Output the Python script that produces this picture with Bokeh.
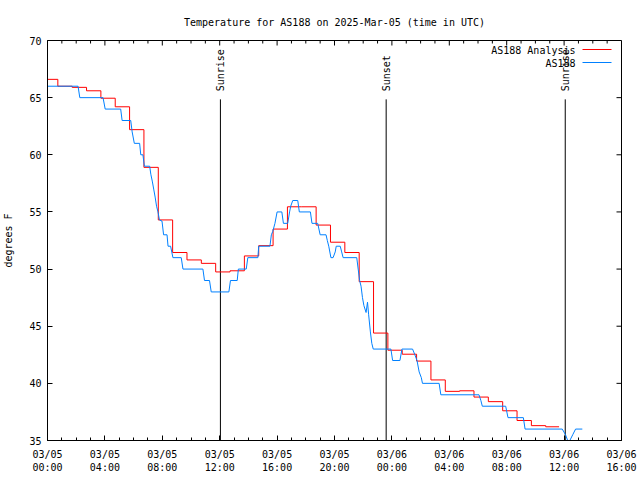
import math
from bokeh.plotting import figure
from bokeh.models import Range1d, FixedTicker, Label, Arrow
from bokeh.core.properties import value
from bokeh.embed import file_html
from bokeh.resources import INLINE

title_text = "Temperature for AS188 on 2025-Mar-05 (time in UTC)"
y_axis_title = "degrees F"

x_tick_hours = [0, 4, 8, 12, 16, 20, 24, 28, 32, 36, 40]
x_tick_labels = ["03/05\n00:00", "03/05\n04:00", "03/05\n08:00", "03/05\n12:00",
                 "03/05\n16:00", "03/05\n20:00", "03/06\n00:00", "03/06\n04:00",
                 "03/06\n08:00", "03/06\n12:00", "03/06\n16:00"]
x_minor_hours = list(range(0, 41))
y_ticks = [35, 40, 45, 50, 55, 60, 65, 70]

# AS188 Analysis (hourly values, stepped)
analysis_hours = [0, 0.72, 1.72, 2.72, 3.72, 4.72, 5.72, 6.72, 7.72, 8.72, 9.72,
                  10.72, 11.72, 12.72, 13.72, 14.72, 15.72, 16.72, 17.72, 18.72,
                  19.72, 20.72, 21.72, 22.72, 23.72, 24.72, 25.72, 26.72, 27.72,
                  28.72, 29.72, 30.72, 31.72, 32.72, 33.72, 34.72, 35.65]
analysis_temps = [66.6, 66.0, 65.9, 65.6, 64.95, 64.2, 62.2, 58.9, 54.3, 51.45, 50.8,
                  50.5, 49.75, 49.85, 51.15, 52.05, 53.5, 55.45, 55.45, 53.85,
                  52.35, 51.45, 48.9, 44.4, 42.9, 42.55, 41.95, 40.3, 39.3,
                  39.35, 38.8, 38.4, 37.6, 36.75, 36.3, 36.2, 36.2]

# AS188 observations
obs_hours = [0, 2.13, 2.25, 3.87, 4.02, 5.1, 5.2, 5.8, 5.9, 6.05, 6.42, 6.5, 6.65, 6.75,
             7.12, 7.2, 7.3, 7.4, 7.5, 7.6, 7.7, 7.8, 7.98, 8.09, 8.33, 8.4, 8.58,
             8.74, 9.32, 9.44, 10.83, 10.94, 11.29, 11.41, 12.64, 12.75, 13.22, 13.3,
             13.85, 13.96, 14.66, 14.72, 15.5, 15.6, 15.7, 15.85, 16.0, 16.33, 16.44,
             16.74, 16.87, 16.95, 17.09, 17.44, 17.55, 18.32, 18.43, 18.83, 19.0,
             19.41, 19.5, 19.6, 19.75, 19.9, 20.05, 20.12, 20.4, 20.5, 20.6, 21.55,
             21.65, 21.75, 21.85, 21.95, 22.05, 22.2, 22.3, 22.38, 22.5, 22.6, 22.7,
             23.93, 24.05, 24.56, 24.7, 25.44, 25.6, 25.75, 25.9, 26.05, 26.13,
             27.29, 27.41, 30.07, 30.2, 30.3, 31.93, 32.09, 33.16, 33.28, 35.87,
             36.1, 36.25, 36.4, 36.6, 36.8, 37.27]
obs_temps = [66, 66, 65, 65, 64, 64, 63, 63, 62, 61, 61, 60, 60, 59,
             59, 58.3, 57.7, 57, 56.3, 55.5, 55, 54.3, 54.2, 53, 53, 52, 52,
             51, 51, 50, 50, 49, 49, 48, 48, 49, 49, 50,
             50, 51, 51, 52, 52, 53, 53.3, 54, 55, 55, 54,
             54, 55, 55.5, 56, 56, 55, 55, 54, 54, 53,
             53, 52.5, 52, 51, 51, 51.5, 52, 52, 51.5, 51, 51,
             50, 49, 48.5, 47.5, 46.8, 46.2, 47.1, 46, 44.5, 43.5, 43,
             43, 42, 42, 43, 43, 42.5, 42, 41, 40.5, 40,
             40, 39, 39, 38.5, 38, 38, 37, 37, 36, 36,
             35.5, 35, 35, 35.5, 36, 36]

sun_event_hours = [12.05, 23.6, 36.08]
sun_event_names = ["Sunrise", "Sunset", "Sunrise"]

FONT = "DejaVu Sans Mono"
X0, X1, Y0, Y1 = 0, 40, 35, 70
FRAME_W, FRAME_H = 575, 400

p = figure(width=640, height=480, output_backend="svg", toolbar_location=None,
           x_range=Range1d(X0, X1), y_range=Range1d(Y0, Y1),
           min_border_left=46, min_border_right=19, min_border_top=40,
           min_border_bottom=40)
p.background_fill_color = "white"
p.border_fill_color = "white"
p.outline_line_color = "black"
p.outline_line_width = 1
p.grid.visible = False

p.title.text = title_text
p.title.text_font = FONT
p.title.text_font_size = "10px"
p.title.text_font_style = "normal"
p.title.text_color = "black"
p.title.align = "center"
p.title.standoff = 25

def style_axis(ax):
    ax.axis_line_color = "black"
    ax.major_tick_in = 5
    ax.major_tick_out = 0
    ax.minor_tick_in = 3
    ax.minor_tick_out = 0
    ax.major_tick_line_color = "black"
    ax.minor_tick_line_color = "black"
    ax.major_label_text_font = FONT
    ax.major_label_text_font_size = "10px"
    ax.major_label_text_color = "black"

xa = p.xaxis[0]
xa.ticker = FixedTicker(ticks=x_tick_hours, minor_ticks=x_minor_hours)
xa.major_label_overrides = {h: lab for h, lab in zip(x_tick_hours, x_tick_labels)}
style_axis(xa)
xa.major_label_standoff = 8

ya = p.yaxis[0]
ya.ticker = FixedTicker(ticks=y_ticks, minor_ticks=[])
style_axis(ya)
ya.major_label_standoff = 6
ya.axis_label = y_axis_title
ya.axis_label_text_font = FONT
ya.axis_label_text_font_size = "10px"
ya.axis_label_text_font_style = "normal"
ya.axis_label_text_color = "black"
ya.axis_label_standoff = 12

# mirrored ticks on top and right edges (gnuplot border ticks)
dy_per_px = (Y1 - Y0) / FRAME_H
dx_per_px = (X1 - X0) / FRAME_W
minor_only = [h for h in x_minor_hours if h not in x_tick_hours]
p.segment(x0=x_tick_hours, y0=[Y1] * len(x_tick_hours),
          x1=x_tick_hours, y1=[Y1 - 5 * dy_per_px] * len(x_tick_hours),
          line_color="black", line_width=1)
p.segment(x0=minor_only, y0=[Y1] * len(minor_only),
          x1=minor_only, y1=[Y1 - 3 * dy_per_px] * len(minor_only),
          line_color="black", line_width=1)
p.segment(x0=[X1] * len(y_ticks), y0=y_ticks,
          x1=[X1 - 5 * dx_per_px] * len(y_ticks), y1=y_ticks,
          line_color="black", line_width=1)

# Sunrise / sunset markers
p.segment(x0=sun_event_hours, y0=[Y0] * len(sun_event_hours),
          x1=sun_event_hours, y1=[64.85] * len(sun_event_hours),
          line_color="black", line_width=1)
p.text(x=sun_event_hours, y=[65.55] * len(sun_event_hours), text=sun_event_names,
       angle=math.pi / 2, text_align="left", text_baseline="middle",
       text_font=value(FONT), text_font_size="10px", text_color="black")

# Series
p.step(analysis_hours, analysis_temps, mode="after", line_color="#ff0000", line_width=1)
p.line(obs_hours, obs_temps, line_color="#0080ff", line_width=1)

# Legend (gnuplot style: text then sample line)
legend_rows = [("AS188 Analysis", "#ff0000", 390.5), ("AS188", "#0080ff", 377.5)]
for name, color, yy in legend_rows:
    p.add_layout(Label(x=528, y=yy, x_units="screen", y_units="screen", text=name,
                       text_align="right", text_baseline="middle",
                       text_font=FONT, text_font_size="10px", text_color="black"))
    p.add_layout(Arrow(end=None, x_start=535, x_end=564, y_start=yy + 0.5, y_end=yy + 0.5,
                       start_units="screen", end_units="screen",
                       line_color=color, line_width=1))

open("out.html", "w").write(file_html(p, INLINE))
